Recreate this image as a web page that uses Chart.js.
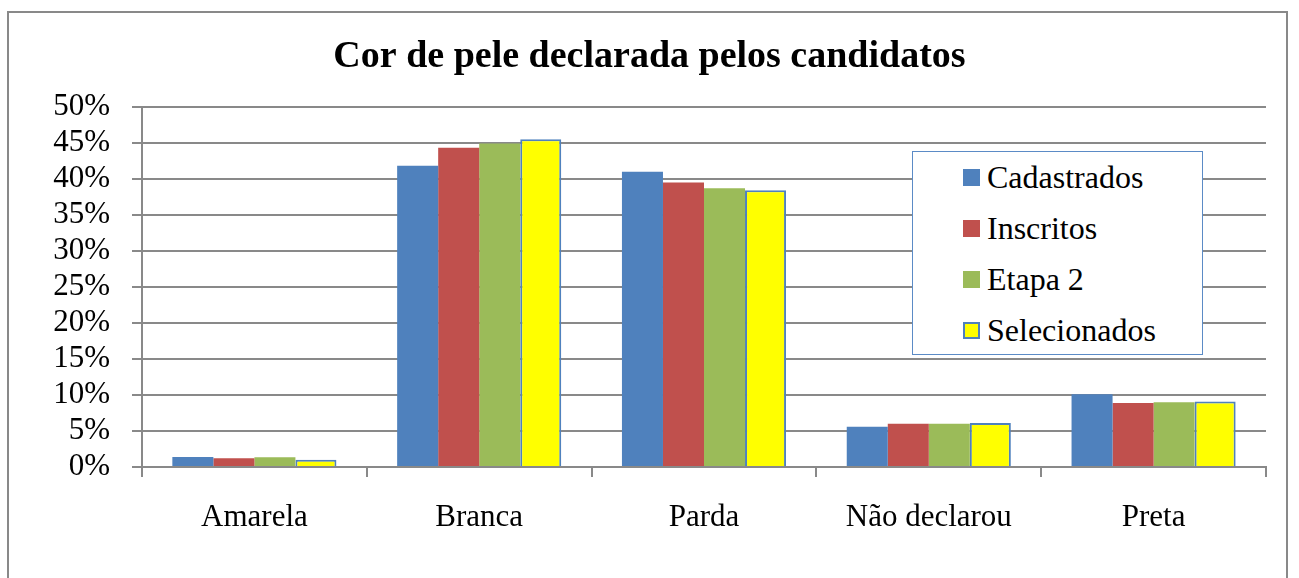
<!DOCTYPE html>
<html>
<head>
<meta charset="utf-8">
<script src="https://cdn.jsdelivr.net/npm/chart.js@4"></script>
<style>
  html, body { margin: 0; padding: 0; background: #fff; overflow: hidden; }
  #wrap { position: relative; width: 1299px; height: 578px; }
  #frame { position: absolute; left: 7px; top: 11px; width: 1281px; height: 600px; border: 2px solid #898989; box-sizing: border-box; pointer-events: none; }
  #legend { position: absolute; left: 912px; top: 151px; width: 291px; height: 204px; border: 1.5px solid #5b8bc6; box-sizing: border-box; background: #fff;
            font-family: "Liberation Serif", "Times New Roman", serif; font-size: 32px; color: #000; }
  .item { position: absolute; left: 50px; height: 36px; line-height: 36px; white-space: nowrap; }
  .sw { position: absolute; left: 0; top: 10px; width: 17px; height: 17px; box-sizing: border-box; }
  .lbl { position: absolute; left: 24px; top: 0; }
</style>
</head>
<body>
<div id="wrap">
  <canvas id="c" width="1299" height="578"></canvas>
  <div id="frame"></div>
  <div id="legend"></div>
</div>
<script>
const categories = ["Amarela", "Branca", "Parda", "Não declarou", "Preta"];
const seriesNames = ["Cadastrados", "Inscritos", "Etapa 2", "Selecionados"];
const cadastrados = [1.4, 41.8, 41.0, 5.6, 10.1];
const inscritos = [1.2, 44.3, 39.5, 6.0, 8.9];
const etapa2 = [1.35, 44.9, 38.7, 6.0, 9.0];
const selecionados = [1.0, 45.5, 38.4, 6.1, 9.1];
const yTicks = [0, 5, 10, 15, 20, 25, 30, 35, 40, 45, 50];
const titleText = "Cor de pele declarada pelos candidatos";

const fills = ["#4F81BD", "#C0504D", "#9BBB59", "#FFFF00"];
const borders = ["#4F81BD", "#C0504D", "#9BBB59", "#4F81BD"];
const borderW = [0, 0, 0, 2];
const values = [cadastrados, inscritos, etapa2, selecionados];

const grey = "#898989";
const serif = "'Liberation Serif', 'Times New Roman', serif";

const chart = new Chart(document.getElementById("c"), {
  type: "bar",
  data: {
    labels: categories,
    datasets: seriesNames.map((n, i) => ({
      label: n,
      data: values[i],
      backgroundColor: fills[i],
      borderColor: borders[i],
      borderWidth: borderW[i],
      categoryPercentage: 0.73,
      barPercentage: 1.0
    }))
  },
  options: {
    responsive: false,
    animation: false,
    layout: { padding: { left: 33, right: 33, top: 0, bottom: 0 } },
    plugins: {
      legend: { display: false },
      tooltip: { enabled: false },
      title: {
        display: true,
        text: titleText,
        color: "#000",
        font: { family: serif, size: 38, weight: "bold", lineHeight: 1.1 },
        padding: { top: 36, bottom: 29 }
      }
    },
    scales: {
      x: {
        grid: { display: true, offset: true, drawOnChartArea: false, drawTicks: true, tickLength: 10, color: grey, lineWidth: 2 },
        border: { display: true, color: grey, width: 2 },
        ticks: { color: "#000", font: { family: serif, size: 31 }, padding: 22, autoSkip: false, maxRotation: 0 },
        afterFit: (s) => { s.height = 111; }
      },
      y: {
        min: 0, max: 50,
        afterBuildTicks: (s) => { s.ticks = yTicks.map(v => ({ value: v })); },
        grid: { color: grey, lineWidth: 2, tickLength: 10, drawTicks: true },
        border: { display: true, color: grey, width: 2 },
        ticks: { color: "#000", font: { family: serif, size: 31, lineHeight: 1 }, padding: 22, autoSkip: false, callback: (v) => v + "%" },
        afterFit: (s) => { s.width = 109; }
      }
    }
  }
});

const leg = document.getElementById("legend");
seriesNames.forEach((n, i) => {
  const it = document.createElement("div");
  it.className = "item";
  it.style.top = (7 + i * 51) + "px";
  const sw = document.createElement("div");
  sw.className = "sw";
  sw.style.background = fills[i];
  if (i === 3) sw.style.border = "2px solid " + borders[i];
  const lb = document.createElement("span");
  lb.className = "lbl";
  lb.textContent = n;
  it.appendChild(sw); it.appendChild(lb);
  leg.appendChild(it);
});
</script>
</body>
</html>
